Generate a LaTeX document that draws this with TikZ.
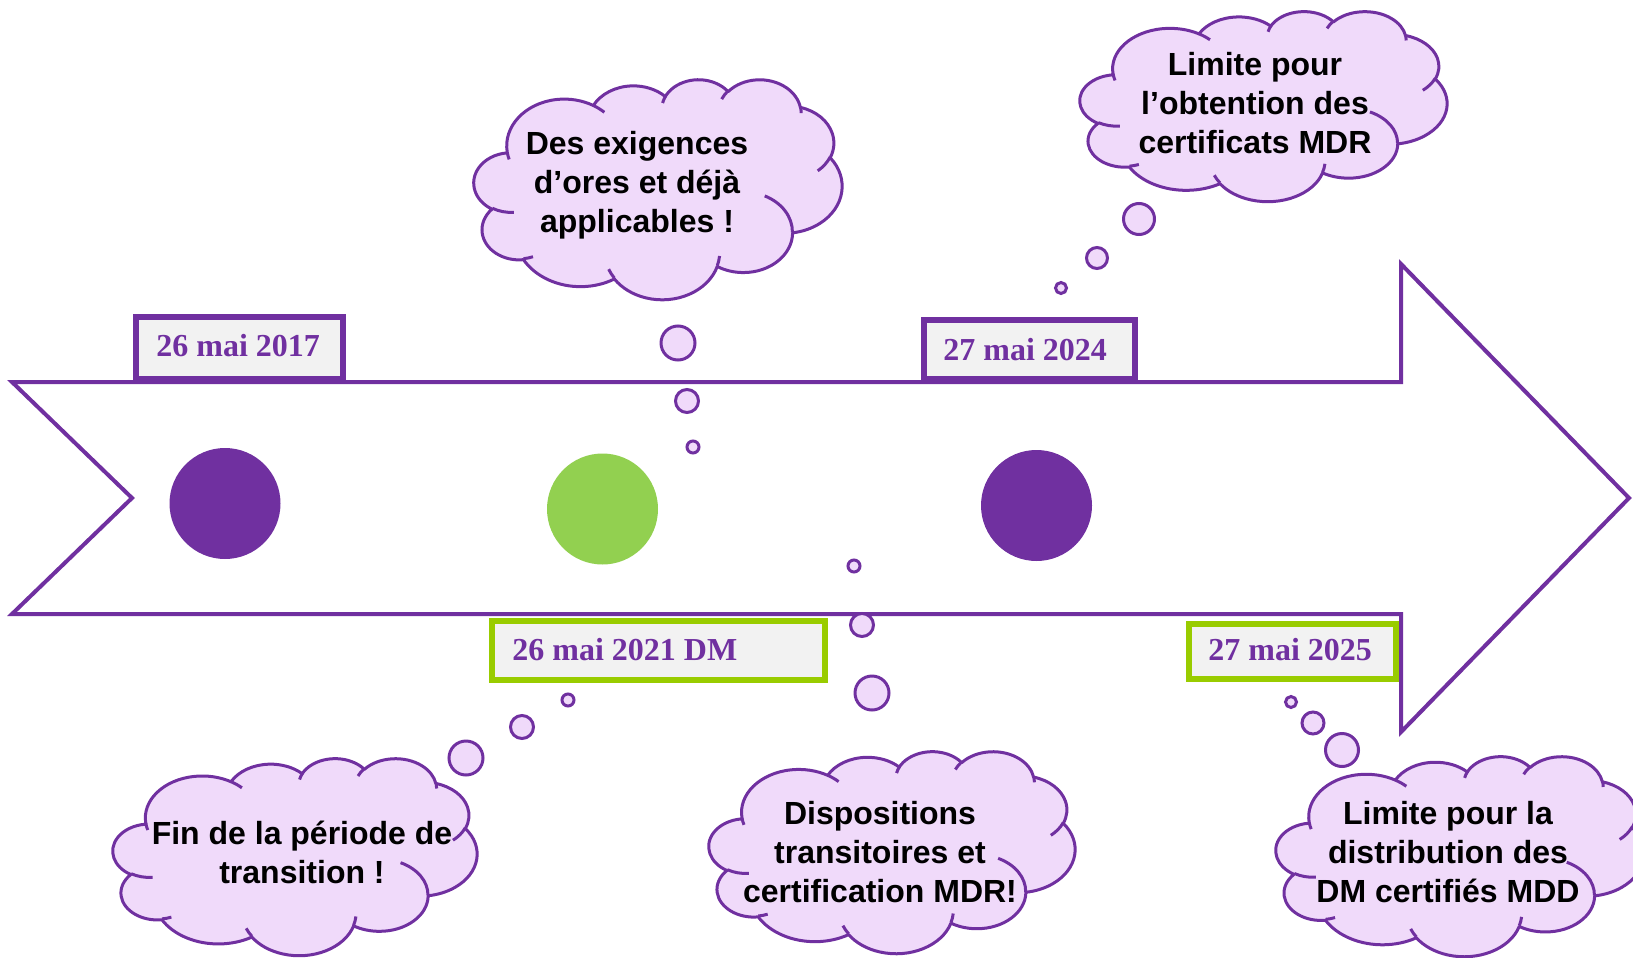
\documentclass[tikz,border=0pt]{standalone}
\usepackage{fontspec}
\setmainfont{Liberation Serif}
\newfontfamily\bubblefont{Liberation Sans}

\definecolor{mdrpurple}{RGB}{112,48,160}
\definecolor{mdrgreen}{RGB}{146,208,80}
\definecolor{tagframe}{RGB}{153,204,0}
\definecolor{puff}{RGB}{240,218,250}
\definecolor{tagfill}{RGB}{242,242,242}

\tikzset{
  timeline/.style={draw=mdrpurple, line width=2pt, line join=miter},
  cloudline/.style={draw=mdrpurple, line width=1.5pt, line join=round},
  tagbox/.style={draw=#1, fill=tagfill, line width=3pt},
  tagtext/.style={anchor=base west, inner sep=0pt, text=mdrpurple,
    font=\fontsize{16}{19}\selectfont\bfseries},
  cloudtext/.style={align=center, inner sep=0pt,
    font=\bubblefont\fontsize{16}{19.5}\selectfont\bfseries},
  milestone/.style={circle, fill=#1, inner sep=0pt, minimum size=55.5pt},
  bubble/.style={circle, draw=mdrpurple, fill=puff, line width=1.5pt,
    inner sep=0pt, minimum size=#1},
}

% Cloud outline in a 432 x 432 frame, y pointing down; #1,#2 = top-left, #3,#4 = size
\newcommand\puffcloud[4]{%
  \begin{scope}[shift={(#1,#2)}, x=1pt, y=1pt, xscale=#3/864, yscale=-#4/864]
    \filldraw[cloudline, fill=puff] (39.00,143.70)
      arc[start angle=172.26, end angle=300.37, x radius=67.53, y radius=91.90]
      arc[start angle=-152.01, end angle=-45.45, x radius=53.33, y radius=72.67]
      arc[start angle=-153.50, end angle=-37.33, x radius=43.65, y radius=59.45]
      arc[start angle=-139.70, end angle=-10.21, x radius=48.57, y radius=65.95]
      arc[start angle=-74.77, end angle=23.21, x radius=53.33, y radius=72.73]
      arc[start angle=-37.53, end angle=81.86, x radius=67.75, y radius=92.20]
      arc[start angle=0.46, end angle=121.98, x radius=57.85, y radius=78.67]
      arc[start angle=16.84, end angle=146.22, x radius=67.52, y radius=92.15]
      arc[start angle=58.98, end angle=150.18, x radius=77.20, y radius=105.43]
      arc[start angle=83.31, end angle=223.11, x radius=43.60, y radius=59.18]
      arc[start angle=120.35, end angle=264.11, x radius=43.45, y radius=59.45]
      -- cycle;
    \draw[cloudline]
      (46.93,261.77) arc[start angle=85.55, end angle=120.35, x radius=43.45, y radius=59.45]
      (69.28,348.99) arc[start angle=68.24, end angle=83.31, x radius=43.60, y radius=59.18]
      (164.78,390.90) arc[start angle=146.22, end angle=158.47, x radius=67.52, y radius=92.15]
      (288.27,347.51) arc[start angle=4.74, end angle=16.84, x radius=67.52, y radius=92.15]
      (341.29,229.54) arc[start angle=-64.03, end angle=0.46, x radius=57.85, y radius=78.67]
      (417.98,153.54) arc[start angle=23.21, end angle=49.65, x radius=53.33, y radius=72.73]
      (383.24,54.26) arc[start angle=-10.21, end angle=0.82, x radius=48.57, y radius=65.95]
      (290.78,39.52) arc[start angle=-156.29, end angle=-139.70, x radius=48.57, y radius=65.95]
      (221.41,47.20) arc[start angle=-167.73, end angle=-153.50, x radius=43.65, y radius=59.45]
      (140.00,51.92) arc[start angle=-59.63, end angle=-45.73, x radius=67.53, y radius=91.90]
      (41.27,157.89) arc[start angle=163.20, end angle=172.26, x radius=67.53, y radius=91.90];
  \end{scope}}

\begin{document}
\begin{tikzpicture}[x=0.5pt, y=-0.5pt]
  \useasboundingbox (0,0) rectangle (1633,958);

  % timeline arrow
  \draw[timeline] (12,382) -- (1401,382) -- (1401,264) -- (1629,498)
    -- (1401,732) -- (1401,614) -- (12,614) -- (132,498) -- cycle;

  % date tags
  \draw[tagbox=mdrpurple] (136,317) rectangle (343,379);
  \draw[tagbox=mdrpurple] (924,319.5) rectangle (1135,379);
  \draw[tagbox=tagframe] (492,621) rectangle (825,680);
  \draw[tagbox=tagframe] (1189,624) rectangle (1396,679);
  \node[tagtext] (d2017) at (156,356) {26 mai 2017};
  \node[tagtext] (d2024) at (943,360) {27 mai 2024};
  \node[tagtext] (d2021) at (512,660) {26 mai 2021 DM};
  \node[tagtext] (d2025) at (1208,660) {27 mai 2025};

  % milestones
  \node[milestone=mdrpurple] (m1) at (225,503.5) {};
  \node[milestone=mdrgreen] (m2) at (602.5,509) {};
  \node[milestone=mdrpurple] (m3) at (1036.5,505.5) {};

  % thought bubbles
  \node[bubble=17pt] (a1) at (678,343) {};
  \node[bubble=11.5pt] (a2) at (687,401) {};
  \node[bubble=6pt] (a3) at (693,447) {};

  \node[bubble=15.5pt] (b1) at (1139,219) {};
  \node[bubble=10.5pt] (b2) at (1097,258) {};
  \node[bubble=5.5pt] (b3) at (1061,288) {};

  \node[bubble=17pt] (c1) at (466,758) {};
  \node[bubble=11.5pt] (c2) at (522,727) {};
  \node[bubble=6pt] (c3) at (568,700) {};

  \node[bubble=6pt] (e3) at (854,566) {};
  \node[bubble=11.5pt] (e2) at (862,625) {};
  \node[bubble=17pt] (e1) at (872,693) {};

  \node[bubble=5.5pt] (f3) at (1291,702) {};
  \node[bubble=11pt] (f2) at (1313,723) {};
  \node[bubble=16.5pt] (f1) at (1342,750) {};

  % clouds
  \puffcloud{474}{79}{368}{220}
  \puffcloud{1080}{11}{367}{190}
  \puffcloud{113}{758}{364}{197}
  \puffcloud{709}{751}{366}{202}
  \puffcloud{1276}{756}{368}{200}

  \node[cloudtext] (t1) at (637,185) {Des exigences\\d’ores et déjà\\applicables !};
  \node[cloudtext] (t2) at (1255,103) {Limite pour\\l’obtention des\\certificats MDR};
  \node[cloudtext] (t3) at (302,852) {Fin de la période de\\transition !};
  \node[cloudtext] (t4) at (880,852) {Dispositions\\transitoires et\\certification MDR!};
  \node[cloudtext] (t5) at (1448,852) {Limite pour la\\distribution des\\DM certifiés MDD};
\end{tikzpicture}
\end{document}
